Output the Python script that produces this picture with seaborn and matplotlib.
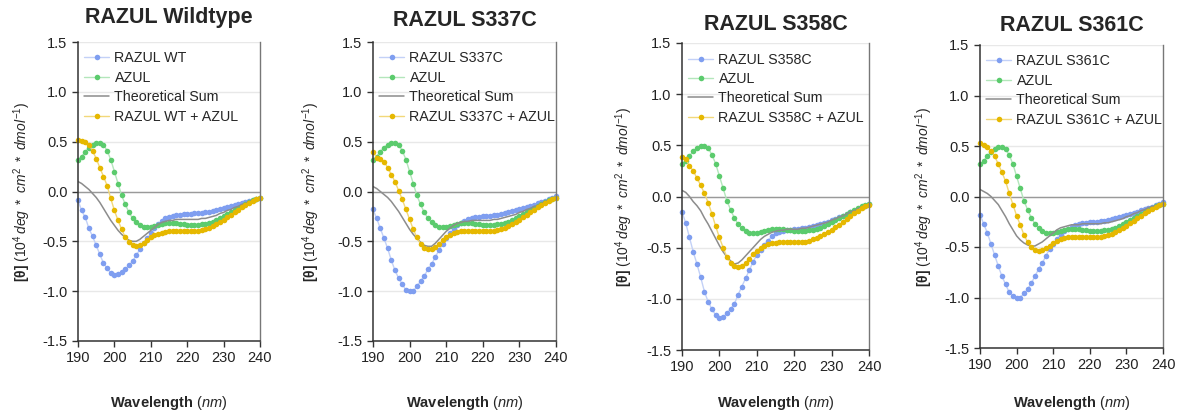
# CD spectra: RAZUL variants vs AZUL
import numpy             as np
import matplotlib
matplotlib.use("Agg")
import matplotlib.pyplot as plt
import seaborn           as sns

wavelength = np.arange(190, 241)

azul = [0.32, 0.35, 0.40, 0.44, 0.47, 0.49, 0.49, 0.47, 0.41, 0.32, 0.20,
        0.08, -0.04, -0.13, -0.21, -0.27, -0.31, -0.34, -0.36, -0.36, -0.36,
        -0.35, -0.34, -0.33, -0.32, -0.32, -0.32, -0.32, -0.33, -0.33, -0.34,
        -0.34, -0.34, -0.34, -0.33, -0.33, -0.32, -0.31, -0.29, -0.27, -0.25,
        -0.23, -0.21, -0.19, -0.17, -0.15, -0.13, -0.11, -0.09, -0.08, -0.07]

# RAZUL Wildtype
razul_wt = [-0.09, -0.19, -0.26, -0.37, -0.45, -0.54, -0.63, -0.72, -0.77, -0.82, -0.84,
            -0.83, -0.81, -0.78, -0.74, -0.70, -0.64, -0.58, -0.52, -0.47, -0.42,
            -0.37, -0.33, -0.30, -0.27, -0.26, -0.25, -0.24, -0.24, -0.23, -0.23,
            -0.23, -0.22, -0.22, -0.22, -0.21, -0.21, -0.20, -0.19, -0.18, -0.17,
            -0.16, -0.15, -0.14, -0.13, -0.12, -0.11, -0.10, -0.09, -0.08, -0.07]
mix_wt = [0.52, 0.51, 0.50, 0.47, 0.41, 0.33, 0.24, 0.15, 0.06, -0.07, -0.19,
          -0.29, -0.38, -0.46, -0.51, -0.54, -0.55, -0.54, -0.52, -0.49, -0.46,
          -0.44, -0.43, -0.42, -0.41, -0.40, -0.40, -0.40, -0.40, -0.40, -0.40,
          -0.40, -0.40, -0.40, -0.39, -0.38, -0.37, -0.35, -0.33, -0.31, -0.29,
          -0.26, -0.24, -0.21, -0.19, -0.16, -0.14, -0.12, -0.10, -0.08, -0.07]
sum_wt = [0.10, 0.08, 0.05, 0.02, -0.02, -0.06, -0.11, -0.17, -0.23, -0.29, -0.34,
          -0.39, -0.43, -0.46, -0.49, -0.50, -0.50, -0.48, -0.45, -0.42, -0.39,
          -0.36, -0.33, -0.31, -0.30, -0.29, -0.29, -0.28, -0.28, -0.28, -0.28,
          -0.28, -0.28, -0.28, -0.27, -0.27, -0.26, -0.25, -0.24, -0.22, -0.21,
          -0.19, -0.18, -0.16, -0.15, -0.13, -0.12, -0.10, -0.09, -0.08, -0.07]

# RAZUL S337C
razul_337 = [-0.18, -0.27, -0.37, -0.47, -0.57, -0.69, -0.79, -0.87, -0.93, -0.99, -1.00,
             -1.00, -0.95, -0.90, -0.85, -0.78, -0.73, -0.66, -0.59, -0.53, -0.47,
             -0.42, -0.38, -0.34, -0.32, -0.30, -0.28, -0.27, -0.26, -0.26, -0.25,
             -0.25, -0.25, -0.24, -0.24, -0.23, -0.22, -0.21, -0.20, -0.19, -0.18,
             -0.17, -0.16, -0.15, -0.14, -0.12, -0.11, -0.10, -0.08, -0.07, -0.05]
mix_337 = [0.40, 0.34, 0.33, 0.30, 0.24, 0.17, 0.10, 0.01, -0.08, -0.18, -0.28,
           -0.38, -0.46, -0.53, -0.57, -0.58, -0.58, -0.56, -0.53, -0.49, -0.46,
           -0.44, -0.42, -0.41, -0.40, -0.40, -0.40, -0.40, -0.40, -0.40, -0.40,
           -0.40, -0.40, -0.40, -0.39, -0.38, -0.37, -0.35, -0.33, -0.31, -0.29,
           -0.26, -0.24, -0.21, -0.19, -0.16, -0.14, -0.12, -0.10, -0.08, -0.07]
sum_337 = [0.05, 0.03, 0.00, -0.03, -0.06, -0.10, -0.15, -0.20, -0.26, -0.32, -0.38,
           -0.43, -0.47, -0.51, -0.54, -0.55, -0.55, -0.52, -0.48, -0.44, -0.40,
           -0.37, -0.34, -0.32, -0.31, -0.30, -0.30, -0.29, -0.29, -0.29, -0.29,
           -0.29, -0.29, -0.28, -0.28, -0.27, -0.26, -0.25, -0.24, -0.23, -0.21,
           -0.20, -0.18, -0.17, -0.15, -0.14, -0.12, -0.10, -0.09, -0.08, -0.06]

# RAZUL S358C
razul_358 = [-0.15, -0.26, -0.40, -0.54, -0.66, -0.79, -0.93, -1.03, -1.10, -1.16, -1.19,
             -1.18, -1.14, -1.10, -1.05, -0.96, -0.88, -0.80, -0.72, -0.64, -0.57,
             -0.52, -0.47, -0.43, -0.39, -0.36, -0.35, -0.34, -0.33, -0.33, -0.32,
             -0.32, -0.31, -0.31, -0.30, -0.29, -0.28, -0.27, -0.26, -0.25, -0.23,
             -0.22, -0.20, -0.19, -0.17, -0.15, -0.14, -0.12, -0.10, -0.09, -0.07]
mix_358 = [0.39, 0.37, 0.30, 0.25, 0.18, 0.11, 0.03, -0.06, -0.17, -0.29, -0.40,
           -0.50, -0.59, -0.65, -0.68, -0.69, -0.68, -0.65, -0.61, -0.56, -0.53,
           -0.50, -0.48, -0.46, -0.45, -0.45, -0.44, -0.44, -0.44, -0.44, -0.44,
           -0.44, -0.44, -0.44, -0.43, -0.42, -0.41, -0.39, -0.37, -0.35, -0.33,
           -0.30, -0.28, -0.25, -0.22, -0.19, -0.16, -0.14, -0.11, -0.09, -0.08]
sum_358 = [0.06, 0.04, 0.00, -0.05, -0.09, -0.14, -0.21, -0.27, -0.34, -0.41, -0.48,
           -0.54, -0.59, -0.63, -0.66, -0.65, -0.62, -0.58, -0.54, -0.50, -0.46,
           -0.42, -0.39, -0.37, -0.35, -0.34, -0.33, -0.33, -0.32, -0.32, -0.32,
           -0.32, -0.31, -0.31, -0.30, -0.29, -0.28, -0.27, -0.26, -0.25, -0.23,
           -0.22, -0.20, -0.19, -0.17, -0.15, -0.14, -0.12, -0.10, -0.09, -0.07]

# RAZUL S361C
razul_361 = [-0.18, -0.27, -0.36, -0.47, -0.58, -0.69, -0.79, -0.87, -0.95, -0.99, -1.00,
             -1.00, -0.96, -0.92, -0.86, -0.79, -0.72, -0.66, -0.59, -0.52, -0.47,
             -0.42, -0.38, -0.34, -0.32, -0.30, -0.28, -0.27, -0.26, -0.26, -0.25,
             -0.25, -0.25, -0.24, -0.24, -0.23, -0.22, -0.21, -0.20, -0.19, -0.18,
             -0.17, -0.16, -0.15, -0.13, -0.12, -0.11, -0.10, -0.08, -0.07, -0.05]
mix_361 = [0.53, 0.51, 0.49, 0.45, 0.40, 0.32, 0.24, 0.15, 0.03, -0.08, -0.19,
           -0.28, -0.38, -0.45, -0.50, -0.53, -0.54, -0.53, -0.51, -0.49, -0.46,
           -0.44, -0.42, -0.41, -0.40, -0.40, -0.40, -0.40, -0.40, -0.40, -0.40,
           -0.40, -0.40, -0.40, -0.39, -0.38, -0.37, -0.35, -0.33, -0.31, -0.29,
           -0.26, -0.24, -0.21, -0.19, -0.16, -0.14, -0.12, -0.10, -0.08, -0.07]
sum_361 = [0.07, 0.05, 0.03, 0.00, -0.04, -0.08, -0.14, -0.20, -0.27, -0.33, -0.39,
           -0.43, -0.46, -0.48, -0.49, -0.49, -0.47, -0.45, -0.42, -0.39, -0.36,
           -0.33, -0.31, -0.30, -0.29, -0.28, -0.28, -0.28, -0.27, -0.27, -0.27,
           -0.27, -0.27, -0.27, -0.26, -0.26, -0.25, -0.24, -0.23, -0.22, -0.20,
           -0.19, -0.17, -0.16, -0.14, -0.13, -0.11, -0.10, -0.09, -0.08, -0.06]

titles = ["RAZUL Wildtype", "RAZUL S337C", "RAZUL S358C", "RAZUL S361C"]
names  = ["RAZUL WT", "RAZUL S337C", "RAZUL S358C", "RAZUL S361C"]
razuls = [razul_wt, razul_337, razul_358, razul_361]
mixes  = [mix_wt, mix_337, mix_358, mix_361]
sums   = [sum_wt, sum_337, sum_358, sum_361]

# layout (pixels in a 1183x416 figure): left, right, top, bottom
boxes = [(78, 260, 42, 341), (373, 556, 42, 341), (682, 869, 43, 350), (980, 1163, 45, 348)]
title_pads = [13.5, 11.5, 9.5, 10]
ylab_right = [33, 322, 635, 935]

BLUE, GREEN, GRAY, GOLD = "#7f9ef0", "#5bcb6d", "#8c8c8c", "#e6b800"
LBLUE, LGREEN, LGOLD = "#c3d1f7", "#b3e6bb", "#f2d87a"

sns.set_theme(style="ticks")
plt.rcParams["font.family"] = ["Liberation Sans", "DejaVu Sans"]
plt.rcParams["mathtext.fontset"] = "custom"
plt.rcParams["mathtext.rm"] = "Liberation Sans"
plt.rcParams["mathtext.it"] = "Liberation Sans:italic"
plt.rcParams["mathtext.bf"] = "Liberation Sans:bold"
plt.rcParams["axes.unicode_minus"] = False

W, H = 1183, 416
fig = plt.figure(figsize=(W / 100, H / 100), dpi=100)

for i in range(4):
    l, r, t, b = boxes[i]
    ax = fig.add_axes([l / W, 1 - b / H, (r - l) / W, (b - t) / H])

    ax.yaxis.grid(True, color="#e8e8e8", linewidth=1)
    ax.axhline(0, color="#9a9a9a", linewidth=1, zorder=1)

    pt = dict(marker="o", markersize=4, markeredgewidth=0, linewidth=1, clip_on=False)
    sns.lineplot(x=wavelength, y=razuls[i], ax=ax, color=LBLUE, markerfacecolor=BLUE,
                 label=names[i], **pt)
    sns.lineplot(x=wavelength, y=azul, ax=ax, color=LGREEN, markerfacecolor=GREEN,
                 label="AZUL", **pt)
    sns.lineplot(x=wavelength, y=sums[i], ax=ax, color=GRAY, linewidth=1.1,
                 label="Theoretical Sum")
    sns.lineplot(x=wavelength, y=mixes[i], ax=ax, color=LGOLD, markerfacecolor=GOLD,
                 label=names[i] + " + AZUL", **pt)

    ax.set_xlim(190, 240)
    ax.set_ylim(-1.5, 1.5)
    ax.set_xticks([190, 200, 210, 220, 230, 240])
    ax.set_yticks([-1.5, -1.0, -0.5, 0.0, 0.5, 1.0, 1.5])
    ax.set_yticklabels(["-1.5", "-1.0", "-0.5", "0.0", "0.5", "1.0", "1.5"])
    ax.tick_params(labelsize=10.5, length=4, width=1, color="#333333", labelcolor="#222222")

    ax.spines["top"].set_visible(False)
    for s in ["left", "bottom"]:
        ax.spines[s].set_color("#333333")
        ax.spines[s].set_linewidth(1.1)
    ax.spines["right"].set_color("#777777")
    ax.spines["right"].set_linewidth(1)

    ax.set_title(titles[i], fontsize=15.5, fontweight="bold", pad=title_pads[i])
    ax.set_xlabel(r"$\mathbf{Wavelength}$ $\mathit{(nm)}$", fontsize=10.5)
    ax.xaxis.set_label_coords(0.5, -(394 - b) / (b - t))
    ax.set_ylabel(r"$\mathbf{[\theta]}$ $\mathit{(10^4\,deg\ *\ cm^2\ *\ dmol^{-1})}$",
                  fontsize=10)
    ax.yaxis.set_label_coords(-(l - ylab_right[i]) / (r - l), 0.5)

    ax.legend(loc="upper left", bbox_to_anchor=(0.0, 0.99), frameon=False, fontsize=10.3,
              handlelength=1.7, numpoints=1, handletextpad=0.4, labelspacing=0.38,
              borderaxespad=0.25, borderpad=0.2)

fig.savefig("out.png", dpi=100)
